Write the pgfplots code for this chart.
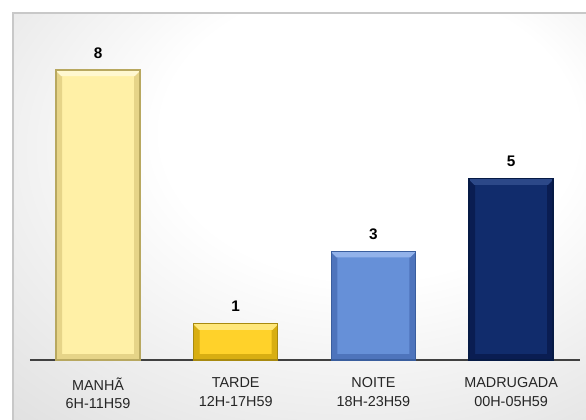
\documentclass[border=0pt]{standalone}
\usepackage{pgfplots}
\pgfplotsset{compat=1.18}
\usepackage{fontspec}
\setmainfont{Liberation Sans}
\definecolor{manha}{HTML}{FFF0A6}
\definecolor{manhaE}{HTML}{B8A860}
\definecolor{manhaT}{HTML}{FFF8D0}
\definecolor{manhaS}{HTML}{E6D488}
\definecolor{tarde}{HTML}{FFD22A}
\definecolor{tardeE}{HTML}{A88A10}
\definecolor{tardeT}{HTML}{FFE77A}
\definecolor{tardeS}{HTML}{D8AE12}
\definecolor{noite}{HTML}{6690D8}
\definecolor{noiteE}{HTML}{3A5E9E}
\definecolor{noiteT}{HTML}{92B2EA}
\definecolor{noiteS}{HTML}{4E74BC}
\definecolor{madru}{HTML}{112C6C}
\definecolor{madruE}{HTML}{061A45}
\definecolor{madruT}{HTML}{2C4888}
\definecolor{madruS}{HTML}{0A1D52}
\definecolor{panelborder}{HTML}{C8C8C8}
\definecolor{axisline}{HTML}{404040}
\pgfdeclareradialshading{bgshade}{\pgfpoint{8bp}{14bp}}{color(0bp)=(white); color(18bp)=(white); color(50bp)=(black!16); color(70bp)=(black!18)}
\tikzset{
  bevel/.style 2 args={path picture={
    \def\b{4pt}
    \fill[#2, path picture={}] (path picture bounding box.north west) -- ([xshift=\b,yshift=-\b]path picture bounding box.north west) -- ([xshift=\b,yshift=\b]path picture bounding box.south west) -- (path picture bounding box.south west) -- cycle;
    \fill[#2, path picture={}] (path picture bounding box.north east) -- ([xshift=-\b,yshift=-\b]path picture bounding box.north east) -- ([xshift=-\b,yshift=\b]path picture bounding box.south east) -- (path picture bounding box.south east) -- cycle;
    \fill[#2, path picture={}] (path picture bounding box.south west) -- ([xshift=\b,yshift=\b]path picture bounding box.south west) -- ([xshift=-\b,yshift=\b]path picture bounding box.south east) -- (path picture bounding box.south east) -- cycle;
    \fill[#1, path picture={}] (path picture bounding box.north west) -- ([xshift=\b,yshift=-\b]path picture bounding box.north west) -- ([xshift=-\b,yshift=-\b]path picture bounding box.north east) -- (path picture bounding box.north east) -- cycle;
  }}
}
\begin{document}
\begin{tikzpicture}
\path[use as bounding box] (0,0) rectangle (439.5pt,314.25pt);
\clip (0,0) rectangle (439.5pt,314.25pt);
\fill[white] (0,0) rectangle (439.5pt,314.25pt);
\shade[shading=bgshade] (9.75pt,-2pt) rectangle (442pt,304.5pt);
\draw[panelborder, line width=1.5pt] (9.75pt,-5pt) -- (9.75pt,304.5pt) -- (445pt,304.5pt);
\begin{axis}[
  at={(22.5pt,44.25pt)}, anchor=south west,
  scale only axis,
  width=412.5pt, height=244.69pt,
  xmin=-0.494, xmax=3.5, ymin=0, ymax=9,
  ybar, bar width=63pt, bar shift=0pt,
  axis x line=bottom, axis y line=none,
  x axis line style={-, draw=axisline, line width=1.5pt},
  xtick={0,1,2,3},
  xticklabels={{MANHÃ\\6H-11H59},{TARDE\\12H-17H59},{NOITE\\18H-23H59},{MADRUGADA\\00H-05H59}},
  xticklabel style={align=center, font=\fontsize{10.8}{14}\selectfont, text=black!85, yshift=-7.5pt},
  xtick style={draw=none},
  /pgf/number format/assume math mode=true,
  nodes near coords,
  every node near coord/.append style={font=\bfseries\fontsize{11.5}{13}\selectfont, text=black, yshift=5pt},
  clip=false,
]
\addplot[fill=manha, draw=manhaE, line width=1pt, bevel={manhaT}{manhaS}] coordinates {(0,8)};
\addplot[fill=tarde, draw=tardeE, line width=1pt, bevel={tardeT}{tardeS}] coordinates {(1,1)};
\addplot[fill=noite, draw=noiteE, line width=1pt, bevel={noiteT}{noiteS}] coordinates {(2,3)};
\addplot[fill=madru, draw=madruE, line width=1pt, bevel={madruT}{madruS}] coordinates {(3,5)};
\end{axis}
\end{tikzpicture}
\end{document}
